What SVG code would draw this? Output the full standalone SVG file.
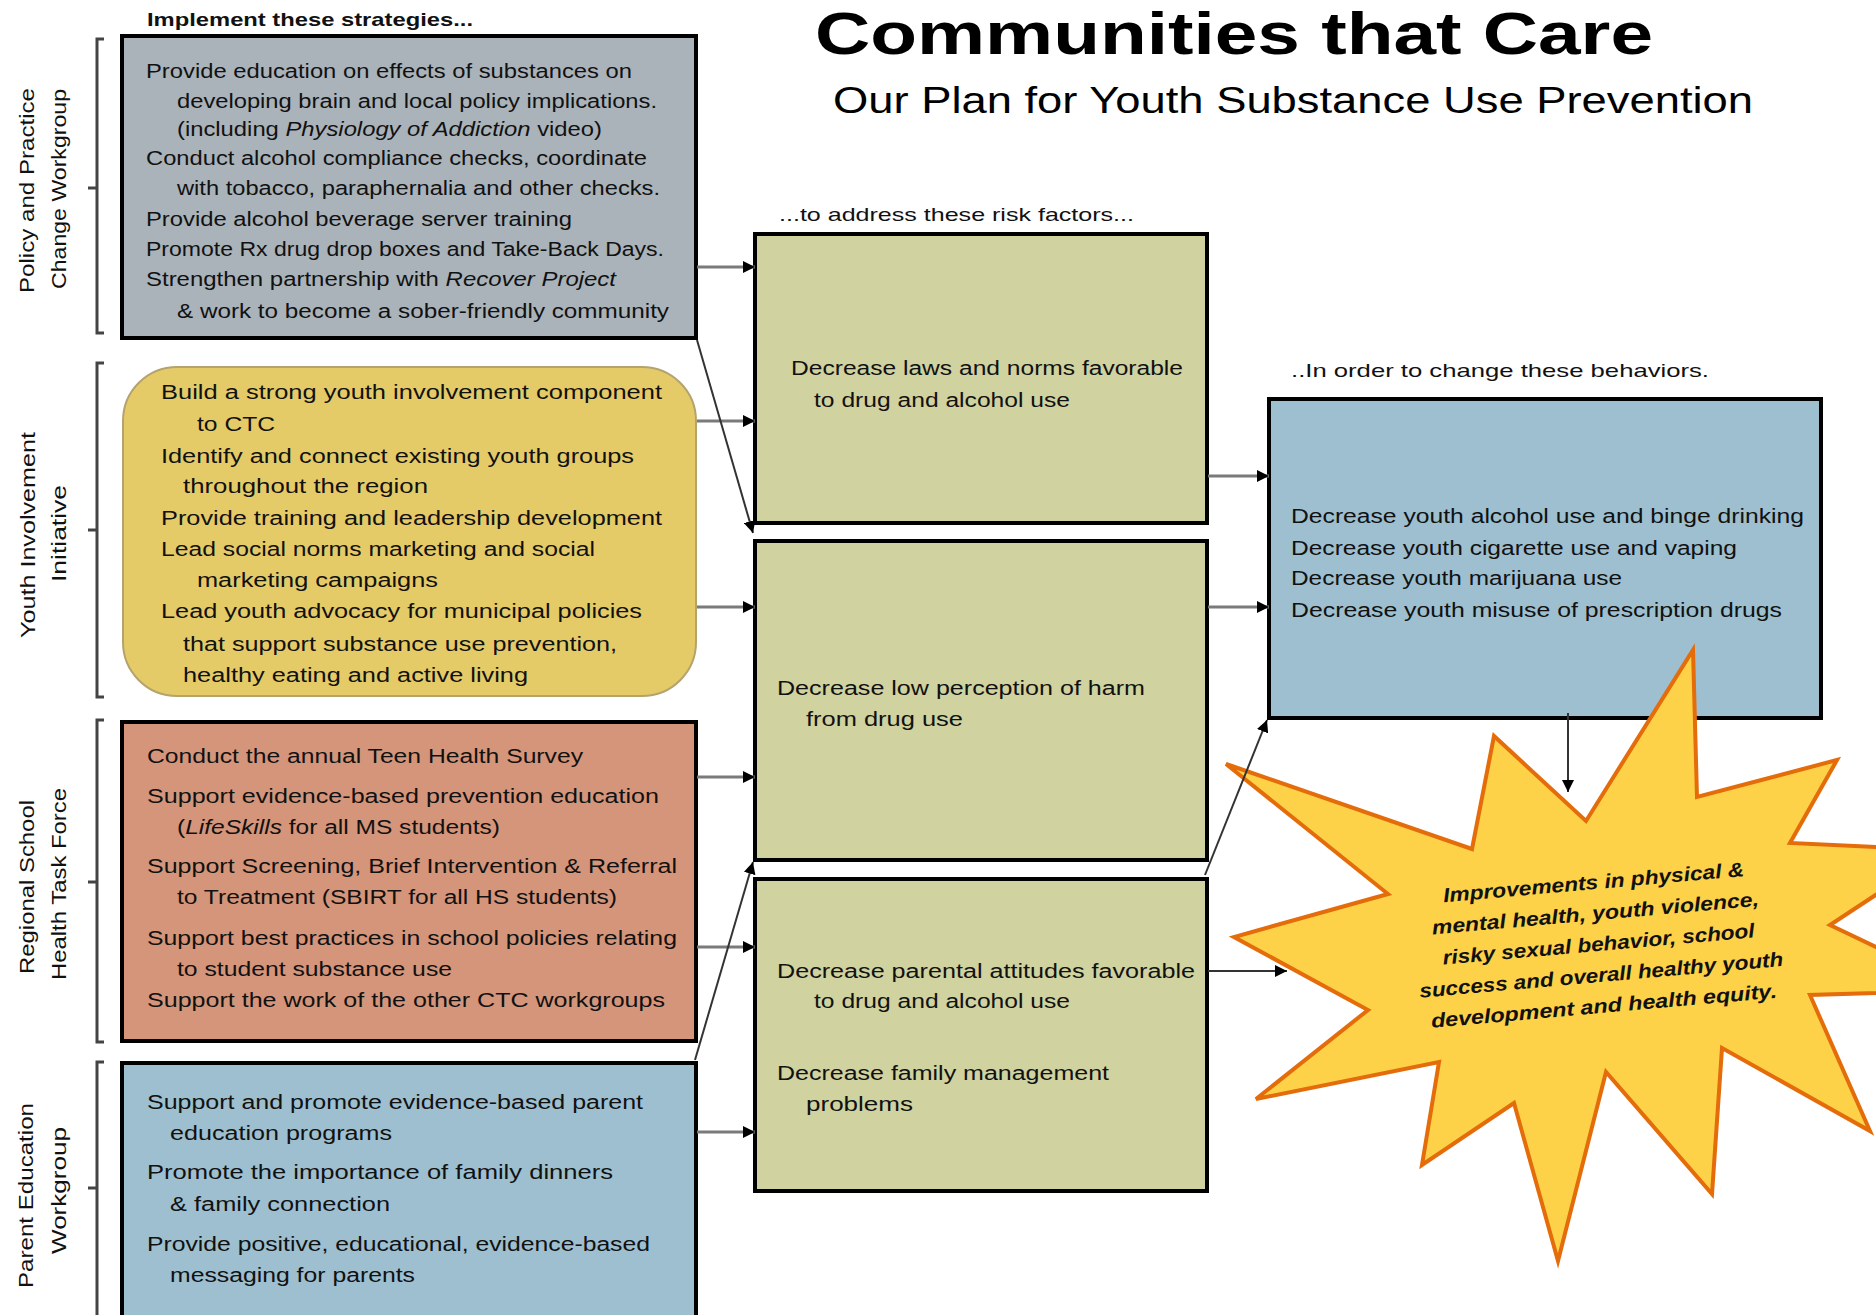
<svg xmlns="http://www.w3.org/2000/svg" width="1876" height="1315" viewBox="0 0 1876 1315">
<defs>
<style>
text{font-family:"Liberation Sans",Arial,sans-serif;fill:#111;font-size:20px}
.title{font-size:59px;font-weight:bold;fill:#000}
.sub{font-size:37px;fill:#000}
.hdr{font-size:19px}
.lbl{font-size:20px}
.box{stroke:#000;stroke-width:4}
.h{stroke:#7a7a7a;stroke-width:3;fill:none}
.d{stroke:#333;stroke-width:2;fill:none}
.br{stroke:#444;stroke-width:3;fill:none}
.star{font-size:20px;font-weight:bold;font-style:italic}
</style>
<marker id="ah" viewBox="0 0 10 10" refX="10" refY="5" markerWidth="12" markerHeight="12" markerUnits="userSpaceOnUse" orient="auto"><path d="M0,0L10,5L0,10z" fill="#000"/></marker>
</defs>
<rect x="0" y="0" width="1876" height="1315" fill="#fff"/>

<g id="title">
<text class="title" x="815" y="54" textLength="838" lengthAdjust="spacingAndGlyphs">Communities that Care</text>
<text class="sub" x="833" y="113" textLength="920" lengthAdjust="spacingAndGlyphs">Our Plan for Youth Substance Use Prevention</text>
</g>

<g id="headers">
<text class="hdr" x="147" y="26" textLength="326" lengthAdjust="spacingAndGlyphs" font-weight="bold">Implement these strategies...</text>
<text class="hdr" x="779" y="221" textLength="355" lengthAdjust="spacingAndGlyphs">...to address these risk factors...</text>
<text class="hdr" x="1291" y="377" textLength="418" lengthAdjust="spacingAndGlyphs">..In order to change these behaviors.</text>
</g>

<g id="brackets">
<path class="br" d="M104,39 H97 V333 H104 M97,188 H88"/>
<path class="br" d="M104,363 H97 V697 H104 M97,530 H88"/>
<path class="br" d="M104,720 H97 V1042 H104 M97,882 H88"/>
<path class="br" d="M104,1062 H97 V1320 M97,1188 H88"/>
</g>

<g id="labels">
<text class="lbl" transform="translate(34,191) rotate(-90)" x="-102" textLength="205" lengthAdjust="spacingAndGlyphs">Policy and Practice</text>
<text class="lbl" transform="translate(66,189) rotate(-90)" x="-100" textLength="200" lengthAdjust="spacingAndGlyphs">Change Workgroup</text>
<text class="lbl" transform="translate(35,535) rotate(-90)" x="-103" textLength="206" lengthAdjust="spacingAndGlyphs">Youth Involvement</text>
<text class="lbl" transform="translate(66,534) rotate(-90)" x="-48" textLength="97" lengthAdjust="spacingAndGlyphs">Initiative</text>
<text class="lbl" transform="translate(34,887) rotate(-90)" x="-87" textLength="174" lengthAdjust="spacingAndGlyphs">Regional School</text>
<text class="lbl" transform="translate(66,884) rotate(-90)" x="-96" textLength="192" lengthAdjust="spacingAndGlyphs">Health Task Force</text>
<text class="lbl" transform="translate(33,1196) rotate(-90)" x="-92" textLength="185" lengthAdjust="spacingAndGlyphs">Parent Education</text>
<text class="lbl" transform="translate(66,1191) rotate(-90)" x="-63" textLength="127" lengthAdjust="spacingAndGlyphs">Workgroup</text>
</g>

<g id="policy-box">
<rect class="box" x="122" y="36" width="574" height="302" fill="#aab3ba"/>
<text x="146" y="78" textLength="486" lengthAdjust="spacingAndGlyphs">Provide education on effects of substances on</text>
<text x="177" y="108" textLength="480" lengthAdjust="spacingAndGlyphs">developing brain and local policy implications.</text>
<text x="177" y="136" textLength="425" lengthAdjust="spacingAndGlyphs">(including <tspan font-style="italic">Physiology of Addiction</tspan> video)</text>
<text x="146" y="165" textLength="501" lengthAdjust="spacingAndGlyphs">Conduct alcohol compliance checks, coordinate</text>
<text x="177" y="195" textLength="483" lengthAdjust="spacingAndGlyphs">with tobacco, paraphernalia and other checks.</text>
<text x="146" y="226" textLength="426" lengthAdjust="spacingAndGlyphs">Provide alcohol beverage server training</text>
<text x="146" y="256" textLength="518" lengthAdjust="spacingAndGlyphs">Promote Rx drug drop boxes and Take-Back Days.</text>
<text x="146" y="286" textLength="470" lengthAdjust="spacingAndGlyphs">Strengthen partnership with <tspan font-style="italic">Recover Project</tspan></text>
<text x="177" y="318" textLength="492" lengthAdjust="spacingAndGlyphs">&amp; work to become a sober-friendly community</text>
</g>

<g id="youth-box">
<rect x="123" y="367" width="573" height="329" rx="54" ry="54" fill="#e5cb68" stroke="#b5a36e" stroke-width="2"/>
<text x="161" y="399" textLength="501" lengthAdjust="spacingAndGlyphs">Build  a strong youth involvement component</text>
<text x="197" y="431" textLength="78" lengthAdjust="spacingAndGlyphs">to CTC</text>
<text x="161" y="463" textLength="473" lengthAdjust="spacingAndGlyphs">Identify and connect existing youth groups</text>
<text x="183" y="493" textLength="245" lengthAdjust="spacingAndGlyphs">throughout the region</text>
<text x="161" y="525" textLength="501" lengthAdjust="spacingAndGlyphs">Provide training and leadership development</text>
<text x="161" y="556" textLength="434" lengthAdjust="spacingAndGlyphs">Lead social norms marketing and social</text>
<text x="197" y="587" textLength="241" lengthAdjust="spacingAndGlyphs">marketing campaigns</text>
<text x="161" y="618" textLength="481" lengthAdjust="spacingAndGlyphs">Lead  youth advocacy for municipal policies</text>
<text x="183" y="651" textLength="434" lengthAdjust="spacingAndGlyphs">that support substance use prevention,</text>
<text x="183" y="682" textLength="345" lengthAdjust="spacingAndGlyphs">healthy eating and active living</text>
</g>

<g id="school-box">
<rect class="box" x="122" y="722" width="574" height="319" fill="#d5957a"/>
<text x="147" y="763" textLength="436" lengthAdjust="spacingAndGlyphs">Conduct the annual Teen Health Survey</text>
<text x="147" y="803" textLength="512" lengthAdjust="spacingAndGlyphs">Support evidence-based prevention education</text>
<text x="177" y="834" textLength="323" lengthAdjust="spacingAndGlyphs">(<tspan font-style="italic">LifeSkills</tspan> for all MS students)</text>
<text x="147" y="873" textLength="530" lengthAdjust="spacingAndGlyphs">Support Screening, Brief Intervention &amp; Referral</text>
<text x="177" y="904" textLength="440" lengthAdjust="spacingAndGlyphs">to Treatment (SBIRT for all HS students)</text>
<text x="147" y="945" textLength="530" lengthAdjust="spacingAndGlyphs">Support best practices in school policies relating</text>
<text x="177" y="976" textLength="275" lengthAdjust="spacingAndGlyphs">to student substance use</text>
<text x="147" y="1007" textLength="518" lengthAdjust="spacingAndGlyphs">Support the work of the other CTC workgroups</text>
</g>

<g id="parent-box">
<rect class="box" x="122" y="1063" width="574" height="262" fill="#9dbfcf"/>
<text x="147" y="1109" textLength="496" lengthAdjust="spacingAndGlyphs">Support and promote evidence-based parent</text>
<text x="170" y="1140" textLength="222" lengthAdjust="spacingAndGlyphs">education programs</text>
<text x="147" y="1179" textLength="466" lengthAdjust="spacingAndGlyphs">Promote the importance of family dinners</text>
<text x="170" y="1211" textLength="220" lengthAdjust="spacingAndGlyphs">&amp; family connection</text>
<text x="147" y="1251" textLength="503" lengthAdjust="spacingAndGlyphs">Provide positive, educational, evidence-based</text>
<text x="170" y="1282" textLength="245" lengthAdjust="spacingAndGlyphs">messaging for parents</text>
</g>

<g id="risk-laws">
<rect class="box" x="755" y="234" width="452" height="289" fill="#d0d29f"/>
<text x="791" y="375" textLength="392" lengthAdjust="spacingAndGlyphs">Decrease laws and norms favorable</text>
<text x="814" y="407" textLength="256" lengthAdjust="spacingAndGlyphs">to drug and alcohol use</text>
</g>

<g id="risk-harm">
<rect class="box" x="755" y="541" width="452" height="319" fill="#d0d29f"/>
<text x="777" y="695" textLength="368" lengthAdjust="spacingAndGlyphs">Decrease low perception of harm</text>
<text x="806" y="726" textLength="157" lengthAdjust="spacingAndGlyphs">from drug use</text>
</g>

<g id="risk-family">
<rect class="box" x="755" y="879" width="452" height="312" fill="#d0d29f"/>
<text x="777" y="978" textLength="418" lengthAdjust="spacingAndGlyphs">Decrease parental attitudes favorable</text>
<text x="814" y="1008" textLength="256" lengthAdjust="spacingAndGlyphs">to drug and alcohol use</text>
<text x="777" y="1080" textLength="332" lengthAdjust="spacingAndGlyphs">Decrease family management</text>
<text x="806" y="1111" textLength="107" lengthAdjust="spacingAndGlyphs">problems</text>
</g>

<g id="behaviors">
<rect class="box" x="1269" y="399" width="552" height="319" fill="#9dbfcf"/>
<text x="1291" y="523" textLength="513" lengthAdjust="spacingAndGlyphs">Decrease youth alcohol use and binge drinking</text>
<text x="1291" y="555" textLength="446" lengthAdjust="spacingAndGlyphs">Decrease youth cigarette use and vaping</text>
<text x="1291" y="585" textLength="331" lengthAdjust="spacingAndGlyphs">Decrease youth marijuana use</text>
<text x="1291" y="617" textLength="491" lengthAdjust="spacingAndGlyphs">Decrease youth misuse of prescription drugs</text>
</g>

<g id="outcome-star">
<polygon points="1693,650 1697,797 1837,760 1790,843 1944,850 1830,925 1966,990 1810,995 1870,1131 1722,1048 1712,1194 1606,1072 1558,1261 1514,1103 1422,1165 1439,1062 1256,1099 1368,1010 1234,937 1388,894 1226,764 1472,849 1494,736 1586,821" fill="#fdd249" stroke="#e46c0a" stroke-width="4" stroke-linejoin="miter"/>
</g>

<g id="connectors">
<path class="h" d="M697,267 H755" marker-end="url(#ah)"/>
<path class="h" d="M697,421 H755" marker-end="url(#ah)"/>
<path class="d" d="M697,340 L753,533" marker-end="url(#ah)"/>
<path class="h" d="M697,607 H755" marker-end="url(#ah)"/>
<path class="h" d="M1208,476 H1269" marker-end="url(#ah)"/>
<path class="h" d="M1208,607 H1269" marker-end="url(#ah)"/>
<path class="h" d="M697,777 H755" marker-end="url(#ah)"/>
<path class="h" d="M697,947 H755" marker-end="url(#ah)"/>
<path class="d" d="M695,1060 L753,862" marker-end="url(#ah)"/>
<path class="h" d="M697,1132 H755" marker-end="url(#ah)"/>
<path class="d" d="M1205,875 L1267,720" marker-end="url(#ah)"/>
<path class="d" d="M1208,971 H1287" stroke-width="3" marker-end="url(#ah)"/>
<path class="d" d="M1568,713 V792" stroke-width="3" marker-end="url(#ah)"/>
</g>

<g id="outcome-text" transform="rotate(-5 1598 944)">
<text class="star" x="1448" y="889" textLength="302" lengthAdjust="spacingAndGlyphs">Improvements in physical &amp;</text>
<text class="star" x="1434" y="920" textLength="328" lengthAdjust="spacingAndGlyphs">mental health, youth violence,</text>
<text class="star" x="1442" y="951" textLength="313" lengthAdjust="spacingAndGlyphs">risky sexual behavior, school</text>
<text class="star" x="1416" y="982" textLength="365" lengthAdjust="spacingAndGlyphs">success and overall healthy youth</text>
<text class="star" x="1425" y="1013" textLength="347" lengthAdjust="spacingAndGlyphs">development and health equity.</text>
</g>
</svg>
